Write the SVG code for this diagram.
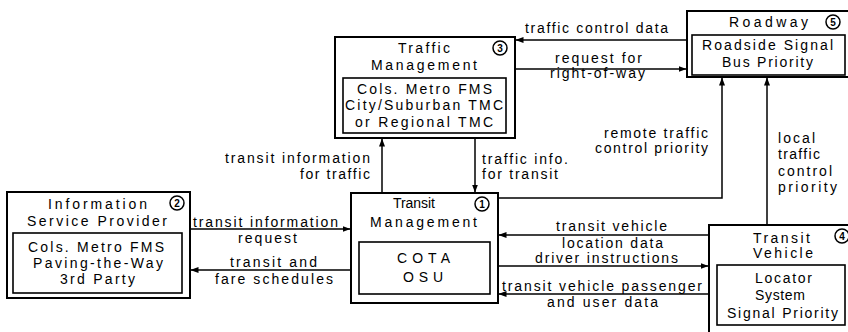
<svg xmlns="http://www.w3.org/2000/svg" width="848" height="332" viewBox="0 0 848 332">
<defs>
<style>
text{font-family:"Liberation Sans",Arial,sans-serif;font-size:14px;fill:#000}
.box{fill:#fff;stroke:#000;stroke-width:2}
.inner{fill:none;stroke:#000;stroke-width:1.6}
.num{fill:none;stroke:#000;stroke-width:1.5}
.n{font-size:10px;font-weight:bold;text-anchor:middle}
.c{fill:none;stroke:#000;stroke-width:1.5}
</style>
<marker id="ah" markerWidth="8" markerHeight="6" refX="7.5" refY="3" orient="auto" markerUnits="userSpaceOnUse">
<path d="M0,0 L8,3 L0,6 Z" fill="#000"/>
</marker>
</defs>
<rect width="848" height="332" fill="#fff"/>

<g id="connectors">
<path class="c" d="M687,40 H516" marker-end="url(#ah)"/>
<path class="c" d="M515,69 H686" marker-end="url(#ah)"/>
<path class="c" d="M498,198 H722 V78" marker-end="url(#ah)"/>
<path class="c" d="M767,225 V78" marker-end="url(#ah)"/>
<path class="c" d="M382,193 V139" marker-end="url(#ah)"/>
<path class="c" d="M475,138 V192" marker-end="url(#ah)"/>
<path class="c" d="M190,229 H350" marker-end="url(#ah)"/>
<path class="c" d="M351,270 H191" marker-end="url(#ah)"/>
<path class="c" d="M709,235 H499" marker-end="url(#ah)"/>
<path class="c" d="M498,266 H708" marker-end="url(#ah)"/>
<path class="c" d="M709,294 H499" marker-end="url(#ah)"/>

<text x="525" y="33" textLength="143" lengthAdjust="spacing">traffic control data</text>
<text x="555" y="63" textLength="87" lengthAdjust="spacing">request for</text>
<text x="550" y="78" textLength="95" lengthAdjust="spacing">right-of-way</text>
<text x="604" y="138" textLength="104" lengthAdjust="spacing">remote traffic</text>
<text x="595" y="153" textLength="113" lengthAdjust="spacing">control priority</text>
<text x="778" y="143" textLength="37" lengthAdjust="spacing">local</text>
<text x="778" y="159" textLength="42" lengthAdjust="spacing">traffic</text>
<text x="778" y="176" textLength="54" lengthAdjust="spacing">control</text>
<text x="778" y="192" textLength="59" lengthAdjust="spacing">priority</text>
<text x="225" y="163" textLength="145" lengthAdjust="spacing">transit information</text>
<text x="300" y="179" textLength="70" lengthAdjust="spacing">for traffic</text>
<text x="482" y="164" textLength="86" lengthAdjust="spacing">traffic info.</text>
<text x="482" y="179" textLength="76" lengthAdjust="spacing">for transit</text>
<text x="193" y="227" textLength="145" lengthAdjust="spacing">transit information</text>
<text x="238" y="243" textLength="59" lengthAdjust="spacing">request</text>
<text x="230" y="267" textLength="87" lengthAdjust="spacing">transit and</text>
<text x="215" y="284" textLength="118" lengthAdjust="spacing">fare schedules</text>
<text x="556" y="231" textLength="111" lengthAdjust="spacing">transit vehicle</text>
<text x="562" y="248" textLength="101" lengthAdjust="spacing">location data</text>
<text x="535" y="263" textLength="143" lengthAdjust="spacing">driver instructions</text>
<text x="502" y="291" textLength="200" lengthAdjust="spacing">transit vehicle passenger</text>
<text x="547" y="307" textLength="111" lengthAdjust="spacing">and user data</text>
</g>

<g id="info-service-provider">
<rect class="box" x="7" y="192" width="183" height="106"/>
<rect class="inner" x="13" y="233" width="169" height="60"/>
<text x="48" y="209" textLength="99" lengthAdjust="spacing">Information</text>
<text x="27" y="226" textLength="140" lengthAdjust="spacing">Service Provider</text>
<text x="28" y="252" textLength="136" lengthAdjust="spacing">Cols. Metro FMS</text>
<text x="33" y="268" textLength="130" lengthAdjust="spacing">Paving-the-Way</text>
<text x="60" y="284" textLength="75" lengthAdjust="spacing">3rd Party</text>
<circle class="num" cx="177" cy="203" r="7"/>
<text class="n" x="177" y="206.5">2</text>
</g>

<g id="traffic-management">
<rect class="box" x="335" y="37" width="180" height="101"/>
<rect class="inner" x="343" y="78" width="163" height="55"/>
<text x="398" y="53" textLength="52" lengthAdjust="spacing">Traffic</text>
<text x="371" y="70" textLength="106" lengthAdjust="spacing">Management</text>
<text x="357" y="94" textLength="135" lengthAdjust="spacing">Cols. Metro FMS</text>
<text x="345" y="110" textLength="158" lengthAdjust="spacing">City/Suburban TMC</text>
<text x="355" y="127" textLength="138" lengthAdjust="spacing">or Regional TMC</text>
<circle class="num" cx="500" cy="48" r="7"/>
<text class="n" x="500" y="51.5">3</text>
</g>

<g id="roadway">
<rect class="box" x="687" y="11" width="164" height="66"/>
<rect class="inner" x="692" y="35" width="153" height="40"/>
<text x="729" y="27" textLength="79" lengthAdjust="spacing">Roadway</text>
<text x="702" y="50" textLength="131" lengthAdjust="spacing">Roadside Signal</text>
<text x="722" y="67" textLength="91" lengthAdjust="spacing">Bus Priority</text>
<circle class="num" cx="833" cy="22" r="7"/>
<text class="n" x="833" y="25.5">5</text>
</g>

<g id="transit-management">
<rect class="box" x="351" y="193" width="147" height="110"/>
<rect class="inner" x="359" y="242" width="131" height="52"/>
<text x="393" y="208" textLength="42" lengthAdjust="spacing">Transit</text>
<text x="370" y="227" textLength="107" lengthAdjust="spacing">Management</text>
<text x="397" y="263" textLength="53" lengthAdjust="spacing">COTA</text>
<text x="403" y="282" textLength="40" lengthAdjust="spacing">OSU</text>
<circle class="num" cx="482" cy="204" r="7"/>
<text class="n" x="482" y="207.5">1</text>
</g>

<g id="transit-vehicle">
<rect class="box" x="709" y="225" width="142" height="110"/>
<rect class="inner" x="717" y="265" width="128" height="60"/>
<text x="753" y="243" textLength="57" lengthAdjust="spacing">Transit</text>
<text x="753" y="258" textLength="60" lengthAdjust="spacing">Vehicle</text>
<text x="755" y="283" textLength="57" lengthAdjust="spacing">Locator</text>
<text x="755" y="300" textLength="50" lengthAdjust="spacing">System</text>
<text x="727" y="318" textLength="111" lengthAdjust="spacing">Signal Priority</text>
<circle class="num" cx="842" cy="236" r="7"/>
<text class="n" x="842" y="239.5">4</text>
</g>
</svg>
